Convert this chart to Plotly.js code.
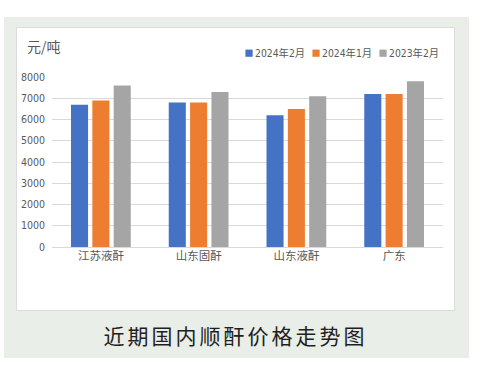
<!DOCTYPE html>
<html>
<head>
<meta charset="utf-8">
<script src="https://cdn.plot.ly/plotly-3.0.1.min.js"></script>
<style>
html,body{margin:0;padding:0;background:#ffffff;}
#outer{position:absolute;left:4px;top:17px;width:465px;height:341px;background:#e9eee8;}
#inner{position:absolute;left:16px;top:27px;width:439px;height:284px;background:#ffffff;border:1px solid #dcdcdc;box-sizing:border-box;}
#chart{position:absolute;left:0;top:0;width:480px;height:375px;}
</style>
</head>
<body>
<div id="outer"></div>
<div id="inner"></div>
<div id="chart"></div>
<script>
const categories = ['江苏液酐', '山东固酐', '山东液酐', '广东'];
const seriesNames = ['2024年2月', '2024年1月', '2023年2月'];
const feb2024 = [6700, 6800, 6200, 7200];
const jan2024 = [6900, 6800, 6500, 7200];
const feb2023 = [7600, 7300, 7100, 7800];
const yTicks = [0, 1000, 2000, 3000, 4000, 5000, 6000, 7000, 8000];
const colors = ['#4472c4', '#ed7d31', '#a5a5a5'];
const values = [feb2024, jan2024, feb2023];

const font = '"Noto Sans CJK SC", "Noto Sans", sans-serif';
const narrow = '"Liberation Sans Narrow", "DejaVu Sans Condensed", "Noto Sans CJK SC", sans-serif';
const traces = values.map((v, i) => ({
  type: 'bar', x: categories, y: v, name: seriesNames[i],
  marker: {color: colors[i]}, hoverinfo: 'skip'
}));

const layout = {
  width: 480, height: 375,
  margin: {l: 52, r: 37, t: 77, b: 128},
  paper_bgcolor: 'rgba(0,0,0,0)', plot_bgcolor: 'rgba(0,0,0,0)',
  barmode: 'group', bargap: 0.345, bargroupgap: 0.2,
  font: {family: font, color: '#595959', size: 11},
  xaxis: {type: 'category', tickfont: {size: 11.5, color: '#595959'}, showline: false, ticks: '', ticklen: 0, automargin: false},
  yaxis: {range: [0, 8000], tickvals: yTicks, ticktext: yTicks.map(String), gridcolor: '#d9d9d9', gridwidth: 1,
          zeroline: true, zerolinecolor: '#d9d9d9', tickfont: {size: 10.5, color: '#595959', family: narrow}, ticklabelstandoff: 6, automargin: false},
  showlegend: true,
  legend: {orientation: 'h', x: 0.417, xanchor: 'left', y: 1.14, yanchor: 'middle', font: {size: 10.3, color: '#595959', family: narrow},
           itemwidth: 30, entrywidth: 22, entrywidthmode: 'pixels', bgcolor: 'rgba(0,0,0,0)', traceorder: 'normal'},
  annotations: [
    {text: '元/吨', xref: 'paper', yref: 'paper', x: -0.07, y: 1.18, xanchor: 'left', yanchor: 'middle', showarrow: false,
     font: {size: 14, color: '#595959', family: font}},
    {text: '近期国内顺酐价格走势图', xref: 'paper', yref: 'paper', x: 0.47, y: -0.515, xanchor: 'center', yanchor: 'middle', showarrow: false,
     font: {size: 21, color: '#231f20', family: font}}
  ]
};
Plotly.newPlot('chart', traces, layout, {displayModeBar: false, staticPlot: true}).then(() => {
  const gd = document.getElementById('chart');
  gd.querySelectorAll('.legend [clip-path]').forEach(el => el.removeAttribute('clip-path'));
  gd.querySelectorAll('.legend .legendpoints path').forEach(p => {
    p.setAttribute('transform', 'translate(34,0) scale(0.6)');
  });
  gd.querySelectorAll('.annotation-text').forEach(t => {
    if (t.textContent.indexOf('走势') >= 0) { t.style.letterSpacing = '3px'; }
  });
});
</script>
</body>
</html>
